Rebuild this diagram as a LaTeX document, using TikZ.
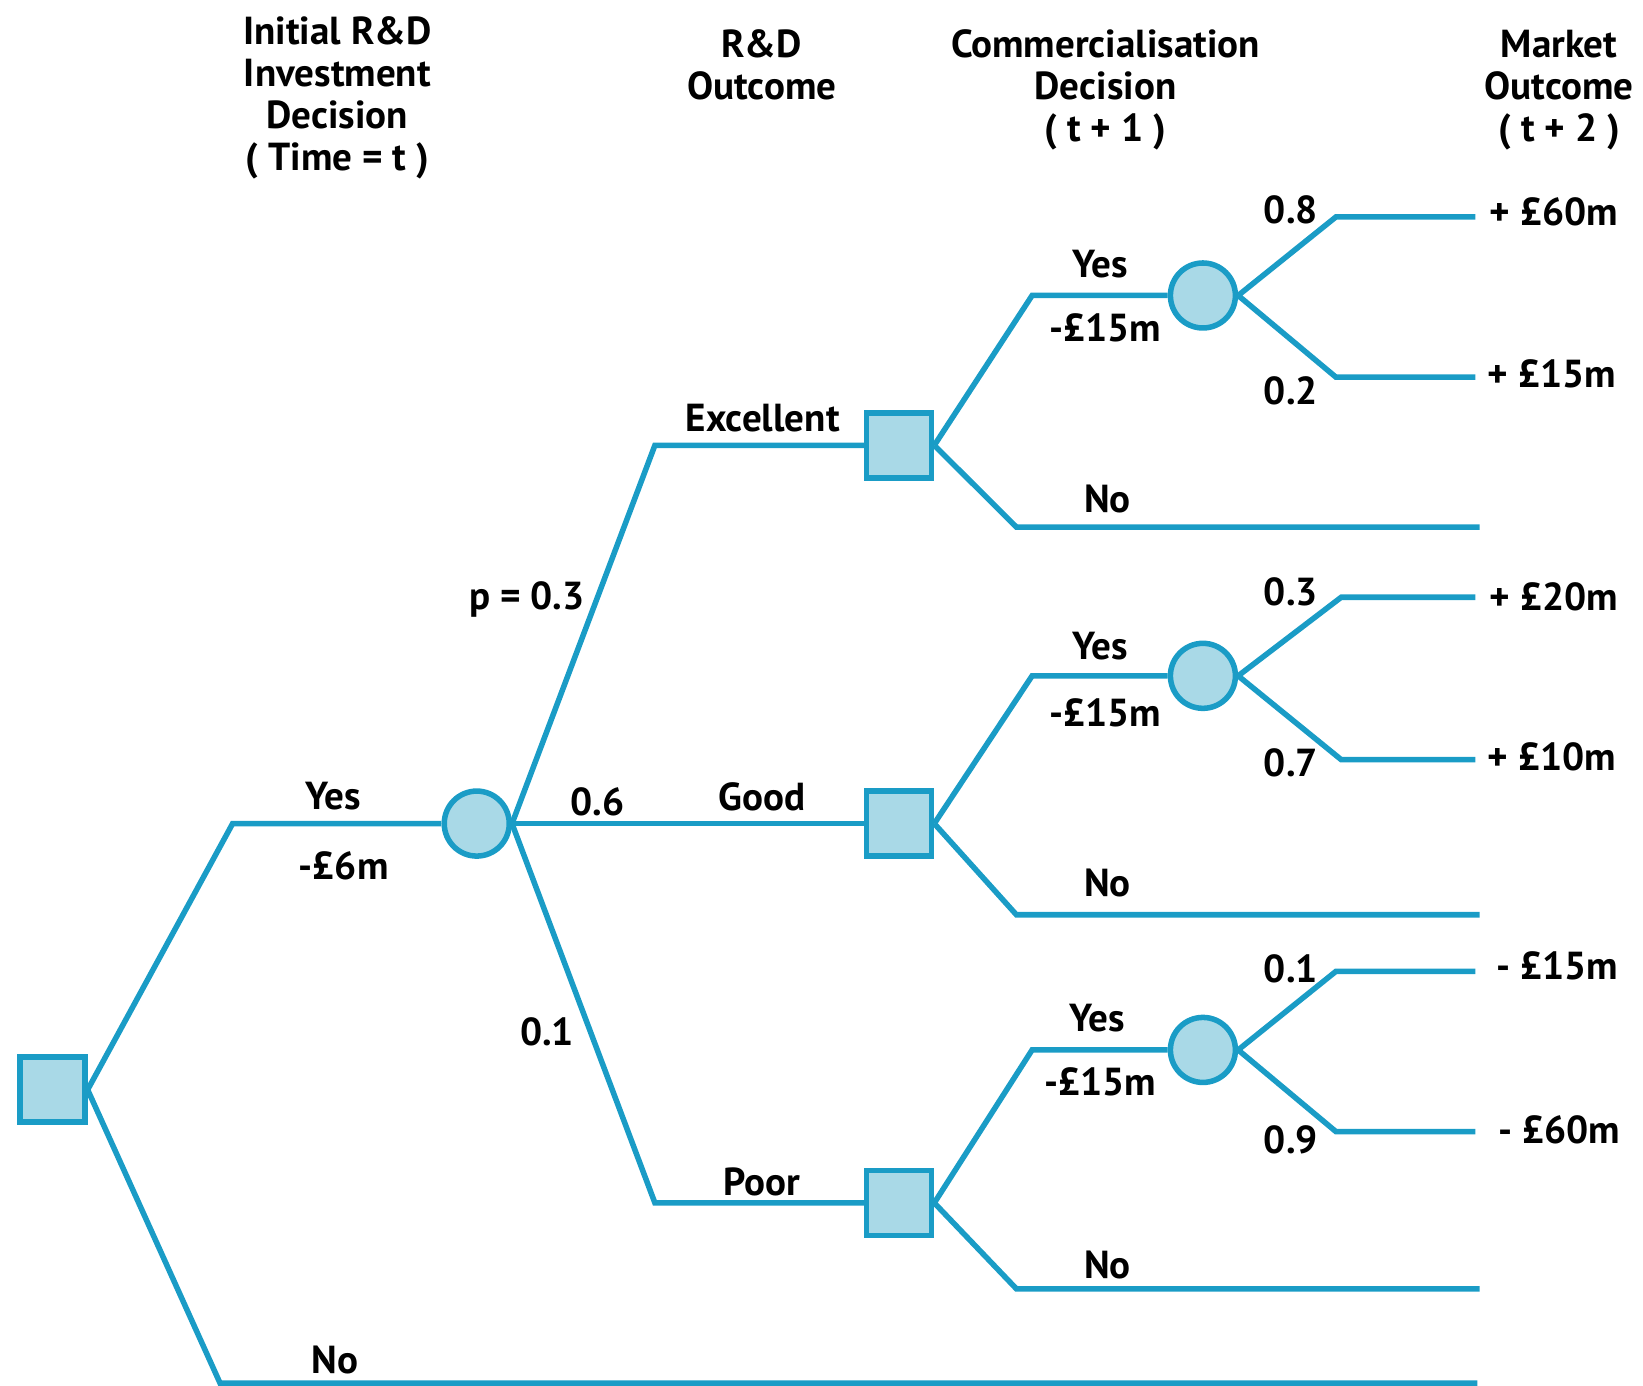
\documentclass[tikz,border=0pt]{standalone}
\usepackage{fontspec}
\setmainfont{PT Sans}
\usetikzlibrary{calc}

\definecolor{treeblue}{HTML}{1A9CC6}
\definecolor{nodefill}{HTML}{A9D9E7}

\tikzset{
    decision/.style={rectangle, draw=treeblue, fill=nodefill, line width=1.5pt, minimum size=0.62cm, inner sep=0pt},
    chance/.style={circle, draw=treeblue, fill=nodefill, line width=1.5pt, minimum size=0.62cm, inner sep=0pt},
    branch/.style={draw=treeblue, line width=1.5pt},
    lbl/.style={font=\bfseries\fontsize{10.6}{11.4}\selectfont, inner sep=1pt},
    head/.style={lbl, align=center}
}

\begin{document}
\begin{tikzpicture}[x=0.01cm, y=-0.01cm]
    \useasboundingbox (0,0) rectangle (1568,1322);

    % Column headings
    \node[head] at (322,93) {Initial R\&D\\Investment\\Decision\\( Time = t )};
    \node[head] at (727,62) {R\&D\\Outcome};
    \node[head] at (1055,86) {Commercialisation\\Decision\\( t + 1 )};
    \node[head] at (1488,86) {Market\\Outcome\\( t + 2 )};

    % Bends and free ends
    \coordinate (yesbend) at (222,786);
    \coordinate (nobend) at (210,1320);
    \coordinate (noend) at (1410,1320);
    \coordinate (excbend) at (625,425);
    \coordinate (poorbend) at (625,1148);

    \coordinate (excyes) at (985,282);
    \coordinate (excno) at (970,503);
    \coordinate (excnoend) at (1412,503);
    \coordinate (goodyes) at (985,645);
    \coordinate (goodno) at (970,873);
    \coordinate (goodnoend) at (1412,873);
    \coordinate (pooryes) at (985,1002);
    \coordinate (poorno) at (970,1230);
    \coordinate (poornoend) at (1412,1230);

    \coordinate (hiup) at (1275,207);
    \coordinate (hiupend) at (1408,207);
    \coordinate (hidown) at (1275,360);
    \coordinate (hidownend) at (1408,360);
    \coordinate (midup) at (1280,570);
    \coordinate (midupend) at (1408,570);
    \coordinate (middown) at (1280,725);
    \coordinate (middownend) at (1408,725);
    \coordinate (loup) at (1275,927);
    \coordinate (loupend) at (1408,927);
    \coordinate (lodown) at (1275,1080);
    \coordinate (lodownend) at (1408,1080);

    % Decision and chance nodes
    \node[decision] (root) at (50,1040) {};
    \node[chance] (rnd) at (455,786) {};
    \node[decision] (exc) at (858,425) {};
    \node[decision] (good) at (858,786) {};
    \node[decision] (poor) at (858,1148) {};
    \node[chance] (cexc) at (1148,282) {};
    \node[chance] (cgood) at (1148,645) {};
    \node[chance] (cpoor) at (1148,1002) {};

    % Branches
    \draw[branch] (root.east) -- (yesbend) -- (rnd.west);
    \draw[branch] (root.east) -- (nobend) -- (noend);
    \draw[branch] (rnd.east) -- (excbend) -- (exc.west);
    \draw[branch] (rnd.east) -- (good.west);
    \draw[branch] (rnd.east) -- (poorbend) -- (poor.west);

    \draw[branch] (exc.east) -- (excyes) -- (cexc.west);
    \draw[branch] (exc.east) -- (excno) -- (excnoend);
    \draw[branch] (good.east) -- (goodyes) -- (cgood.west);
    \draw[branch] (good.east) -- (goodno) -- (goodnoend);
    \draw[branch] (poor.east) -- (pooryes) -- (cpoor.west);
    \draw[branch] (poor.east) -- (poorno) -- (poornoend);

    \draw[branch] (cexc.east) -- (hiup) -- (hiupend);
    \draw[branch] (cexc.east) -- (hidown) -- (hidownend);
    \draw[branch] (cgood.east) -- (midup) -- (midupend);
    \draw[branch] (cgood.east) -- (middown) -- (middownend);
    \draw[branch] (cpoor.east) -- (loup) -- (loupend);
    \draw[branch] (cpoor.east) -- (lodown) -- (lodownend);

    % Branch labels
    \node[lbl] at (318,760) {Yes};
    \node[lbl] at (328,826) {-£6m};
    \node[lbl] at (320,1298) {No};
    \node[lbl] at (503,572) {p = 0.3};
    \node[lbl] at (728,399) {Excellent};
    \node[lbl] at (570,765) {0.6};
    \node[lbl] at (727,760) {Good};
    \node[lbl] at (522,985) {0.1};
    \node[lbl] at (727,1128) {Poor};

    \node[lbl] at (1050,252) {Yes};
    \node[lbl] at (1055,313) {-£15m};
    \node[lbl] at (1057,476) {No};
    \node[lbl] at (1050,617) {Yes};
    \node[lbl] at (1055,680) {-£15m};
    \node[lbl] at (1057,843) {No};
    \node[lbl] at (1047,972) {Yes};
    \node[lbl] at (1050,1032) {-£15m};
    \node[lbl] at (1057,1207) {No};

    % Market outcomes
    \node[lbl] at (1232,200) {0.8};
    \node[lbl] at (1232,373) {0.2};
    \node[lbl] at (1483,202) {+ £60m};
    \node[lbl] at (1481,357) {+ £15m};
    \node[lbl] at (1232,565) {0.3};
    \node[lbl] at (1232,728) {0.7};
    \node[lbl] at (1483,570) {+ £20m};
    \node[lbl] at (1481,722) {+ £10m};
    \node[lbl] at (1232,925) {0.1};
    \node[lbl] at (1232,1088) {0.9};
    \node[lbl] at (1486,922) {- £15m};
    \node[lbl] at (1488,1078) {- £60m};
\end{tikzpicture}
\end{document}
